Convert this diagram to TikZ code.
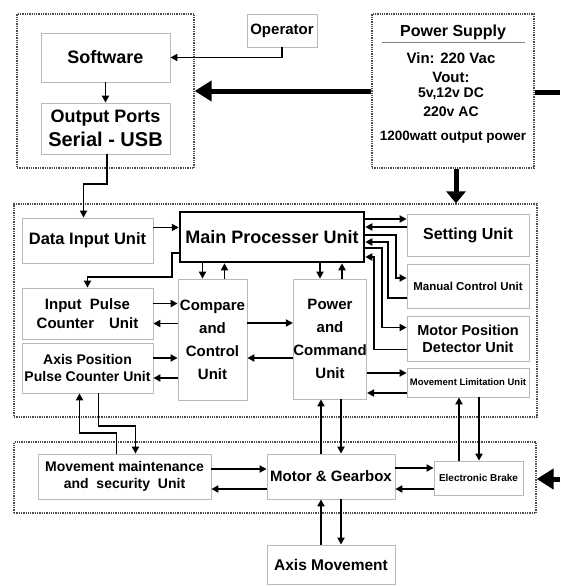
\documentclass[tikz,border=0pt]{standalone}
\usepackage{fontspec}
\setmainfont{Liberation Sans}
\usetikzlibrary{arrows.meta}
\newcommand{\fsz}[2]{\fontsize{#1}{#2}\selectfont\bfseries}

\begin{document}
\begin{tikzpicture}[x=1pt,y=-1pt,
    unit/.style={draw=gray!55, line width=0.8pt, fill=white, align=center, inner sep=0pt},
    group/.style={draw=black!70, densely dotted, line width=1.3pt},
    arr/.style={draw, line width=1.9pt, -{Triangle[length=7pt,width=7pt]}},
    bigarr/.style={draw, line width=5pt, -{Triangle[length=17pt,width=20pt]}},
    downarr/.style={draw, line width=5pt, -{Triangle[length=12pt,width=19pt]}}]
  \useasboundingbox (0,0) rectangle (560,586);

  % groups
  \node[group, minimum width=177pt, minimum height=154pt] (TopGroup) at (105.5,91) {};
  \node[group, minimum width=162pt, minimum height=154pt] (PSU) at (453,91) {};
  \node[group, minimum width=523pt, minimum height=213pt] (MidGroup) at (275.5,310.5) {};
  \node[group, minimum width=522pt, minimum height=71pt] (LowGroup) at (275,477.5) {};

  % top row
  \node[unit, minimum width=129pt, minimum height=49pt, font=\fsz{18}{22}] (Software) at (105.5,57.5) {Software};
  \node[unit, minimum width=129pt, minimum height=51pt, font=\fsz{18}{24}] (OutPorts) at (105.5,128.5) {Output Ports\\\fsz{20}{24}Serial - USB};
  \node[unit, minimum width=70pt, minimum height=33pt, font=\fsz{15}{18}] (Operator) at (282,30.5) {Operator};

  % power supply text
  \node[font=\fsz{16}{19}] (psuTitle) at (453,32) {Power Supply};
  \draw[gray, line width=0.8pt] (382,42) -- (525,42);
  \node[font=\fsz{15}{18}] (psuVin) at (451,58) {Vin: 220 Vac};
  \node[font=\fsz{15}{18}] (psuVout) at (451,77) {Vout:};
  \node[font=\fsz{14}{17}] (psuDC) at (451,94) {5v,12v DC};
  \node[font=\fsz{14}{17}] (psuAC) at (451,112) {220v AC};
  \node[font=\fsz{13.5}{16}] (psuWatt) at (453,137) {1200watt output power};

  % middle units
  \node[unit, minimum width=131pt, minimum height=45pt, font=\fsz{16.5}{20}] (DataIn) at (87.5,240.5) {Data Input Unit};
  \node[unit, draw=black, line width=2.5pt, minimum width=184pt, minimum height=50pt, font=\fsz{18}{22}] (Main) at (272,237) {Main Processer Unit};
  \node[unit, minimum width=131pt, minimum height=51pt, font=\fsz{15}{19}] (InPulse) at (87.5,313.5) {Input\ \ Pulse\\Counter\quad Unit};
  \node[unit, minimum width=131pt, minimum height=50pt, font=\fsz{14}{17}] (AxisPos) at (87.5,368) {Axis Position\\Pulse Counter Unit};
  \node[unit, minimum width=69pt, minimum height=121pt, font=\fsz{15}{23}] (Compare) at (212.5,339.5) {Compare\\and\\Control\\Unit};
  \node[unit, minimum width=68pt, minimum height=120pt, font=\fsz{15}{23}] (PowerCmd) at (330,339) {Power\\and\\Command\\Unit};
  \node[unit, minimum width=122pt, minimum height=42pt, font=\fsz{16}{19}] (Setting) at (468,235) {Setting Unit};
  \node[unit, minimum width=122pt, minimum height=44pt, font=\fsz{11.5}{14}] (Manual) at (468,286) {Manual Control Unit};
  \node[unit, minimum width=122pt, minimum height=45pt, font=\fsz{14.5}{17}] (MotorPos) at (468,338.5) {Motor Position\\Detector Unit};
  \node[unit, minimum width=122pt, minimum height=29pt, font=\fsz{9.5}{12}] (Limit) at (468,382.5) {Movement Limitation Unit};

  % lower units
  \node[unit, minimum width=173pt, minimum height=45pt, font=\fsz{14}{17}] (MovMaint) at (124.5,476.5) {Movement maintenance\\and\ \ security\ \ Unit};
  \node[unit, minimum width=128pt, minimum height=45pt, font=\fsz{15}{18}] (Motor) at (331,476.5) {Motor \& Gearbox};
  \node[unit, minimum width=89pt, minimum height=34pt, font=\fsz{10}{12}] (Brake) at (478.5,478) {Electronic Brake};
  \node[unit, minimum width=128pt, minimum height=39pt, font=\fsz{15.5}{18}] (AxisMov) at (331,564.5) {Axis Movement};

  \coordinate (edgeTop) at (560,92);
  \coordinate (edgeLow) at (560,479);

  % power lines
  \draw[bigarr] (PSU.west) -- (TopGroup.east |- PSU.west);
  \draw[line width=5pt] (PSU.east |- edgeTop) -- (edgeTop);
  \draw[downarr] ([xshift=3pt]PSU.south) -- ([xshift=3pt]PSU.south |- MidGroup.north);
  \draw[bigarr] (edgeLow) -- (LowGroup.east |- edgeLow);

  % top connections
  \draw[arr] (Operator.south) |- (Software.east);
  \draw[arr] (Software.south) -- (OutPorts.north);
  \draw[arr] ([xshift=1.5pt]OutPorts.south) -- ++(0,30) -| ([xshift=-4pt]DataIn.north);

  % main processer connections
  \draw[arr] ([yshift=13pt]DataIn.east) -- ([yshift=13pt]DataIn.east -| Main.west);
  \draw[arr] ([yshift=-16pt]Main.west) -- ++(-7,0) -- ++(0,24) -| (InPulse.north);
  \draw[arr] ([xshift=-10pt]Compare.north |- Main.south) -- ([xshift=-10pt]Compare.north);
  \draw[arr] ([xshift=12pt]Compare.north) -- ([xshift=12pt]Compare.north |- Main.south);
  \draw[arr] ([xshift=-10pt]PowerCmd.north |- Main.south) -- ([xshift=-10pt]PowerCmd.north);
  \draw[arr] ([xshift=12pt]PowerCmd.north) -- ([xshift=12pt]PowerCmd.north |- Main.south);
  \draw[arr] ([yshift=16pt]Setting.west -| Main.east) -- ([yshift=16pt]Setting.west);
  \draw[arr] ([yshift=8pt]Setting.west) -- ([yshift=8pt]Setting.west -| Main.east);
  \draw[arr] ([yshift=2pt]Main.east) -- ++(31,0) |- ([yshift=8pt]Manual.west);
  \draw[arr] ([yshift=-12pt]Manual.west) -- ++(-19,0) |- ([yshift=-5pt]Main.east);
  \draw[arr] ([yshift=-11pt]Main.east) -- ++(17,0) |- ([yshift=11pt]MotorPos.west);
  \draw[arr] ([yshift=-11pt]MotorPos.west) -- ++(-33,0) |- ([yshift=-20pt]Main.east);

  % counters, compare and command
  \draw[arr] ([yshift=10pt]InPulse.east) -- ([yshift=10pt]InPulse.east -| Compare.west);
  \draw[arr] ([yshift=-10pt]InPulse.east -| Compare.west) -- ([yshift=-10pt]InPulse.east);
  \draw[arr] ([yshift=10pt]AxisPos.east) -- ([yshift=10pt]AxisPos.east -| Compare.west);
  \draw[arr] ([yshift=-10pt]AxisPos.east -| Compare.west) -- ([yshift=-10pt]AxisPos.east);
  \draw[arr] ([yshift=16.5pt]Compare.east) -- ([yshift=16.5pt]Compare.east -| PowerCmd.west);
  \draw[arr] ([yshift=-18.5pt]Compare.east -| PowerCmd.west) -- ([yshift=-18.5pt]Compare.east);
  \draw[arr] ([yshift=9.5pt]Limit.west -| PowerCmd.east) -- ([yshift=9.5pt]Limit.west);
  \draw[arr] ([yshift=-10.5pt]Limit.west) -- ([yshift=-10.5pt]Limit.west -| PowerCmd.east);

  % lower connections
  \draw[arr] ([xshift=-8pt]MovMaint.north) -- ++(0,-21) -| ([xshift=-8pt]AxisPos.south);
  \draw[arr] ([xshift=11pt]AxisPos.south) -- ++(0,33) -| ([xshift=11pt]MovMaint.north);
  \draw[arr] ([xshift=-10pt]Motor.north) -- ([xshift=-10pt]Motor.north |- PowerCmd.south);
  \draw[arr] ([xshift=10pt]Motor.north |- PowerCmd.south) -- ([xshift=10pt]Motor.north);
  \draw[arr] ([xshift=-9pt]Limit.south |- Brake.north) -- ([xshift=-9pt]Limit.south);
  \draw[arr] ([xshift=11pt]Limit.south) -- ([xshift=11pt]Limit.south |- Brake.north);
  \draw[arr] ([yshift=7.5pt]MovMaint.east) -- ([yshift=7.5pt]MovMaint.east -| Motor.west);
  \draw[arr] ([yshift=-12.5pt]MovMaint.east -| Motor.west) -- ([yshift=-12.5pt]MovMaint.east);
  \draw[arr] ([yshift=10pt]Brake.west -| Motor.east) -- ([yshift=10pt]Brake.west);
  \draw[arr] ([yshift=-11pt]Brake.west) -- ([yshift=-11pt]Brake.west -| Motor.east);
  \draw[arr] ([xshift=-10pt]AxisMov.north) -- ([xshift=-10pt]AxisMov.north |- Motor.south);
  \draw[arr] ([xshift=10pt]AxisMov.north |- Motor.south) -- ([xshift=10pt]AxisMov.north);
\end{tikzpicture}
\end{document}
